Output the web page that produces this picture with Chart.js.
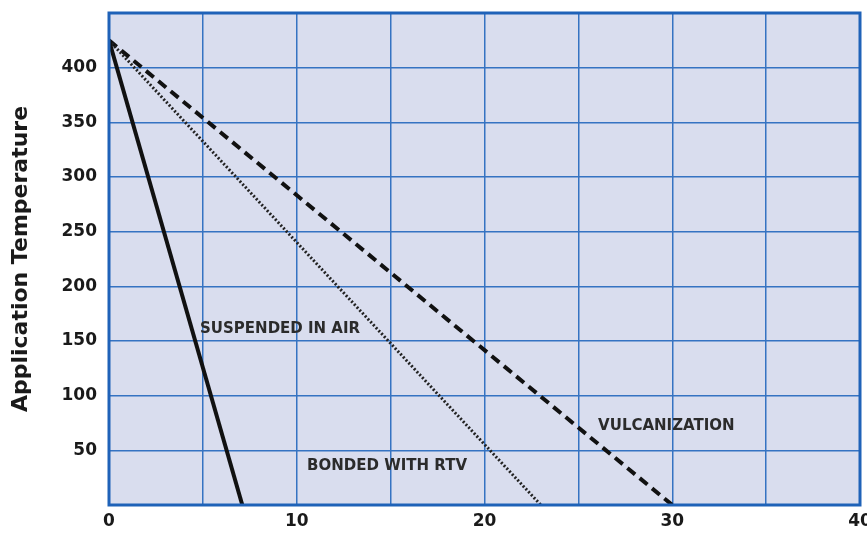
<!DOCTYPE html>
<html>
<head>
<meta charset="utf-8">
<script src="https://cdn.jsdelivr.net/npm/chart.js@4"></script>
<style>
  html, body { margin: 0; padding: 0; background: #ffffff; }
  #wrap { width: 867px; height: 533px; }
</style>
</head>
<body>
<div id="wrap"><canvas id="chartSuhu"></canvas></div>
<script>
// Data garis (waktu vs suhu)
const seriesNames = ["SUSPENDED IN AIR", "BONDED WITH RTV", "VULCANIZATION"];
const airX = [0, 7.1];
const airY = [425, 0];
const rtvX = [0, 23];
const rtvY = [425, 0];
const vulcX = [0, 30];
const vulcY = [425, 0];
const xTicks = [0, 10, 20, 30, 40];
const yTicks = [50, 100, 150, 200, 250, 300, 350, 400];

const toPoints = (xs, ys) => xs.map((x, i) => ({ x: x, y: ys[i] }));

const biru = "#3573c2";

// Latar belakang + bingkai area plot
const plotBox = {
  id: "plotBox",
  beforeDraw(chart) {
    const { ctx, chartArea: a } = chart;
    ctx.save();
    ctx.fillStyle = "#d9ddee";
    ctx.fillRect(a.left, a.top, a.right - a.left, a.bottom - a.top);
    ctx.restore();
  },
  afterDraw(chart) {
    const { ctx, chartArea: a } = chart;
    ctx.save();
    ctx.strokeStyle = "#1f62b8";
    ctx.lineWidth = 3;
    ctx.strokeRect(a.left, a.top, a.right - a.left, a.bottom - a.top);
    ctx.restore();
  }
};

// Label teks di dalam plot (posisi awal kiri, dalam satuan data)
const labelPos = [[4.85, 161], [10.55, 36], [26.05, 72]];
const lineLabels = {
  id: "lineLabels",
  afterDatasetsDraw(chart) {
    const { ctx, scales } = chart;
    ctx.save();
    ctx.font = "bold 15px 'DejaVu Sans'";
    ctx.fillStyle = "#2b2b2b";
    ctx.textAlign = "left";
    ctx.textBaseline = "middle";
    seriesNames.forEach((name, i) => {
      ctx.fillText(name, scales.x.getPixelForValue(labelPos[i][0]), scales.y.getPixelForValue(labelPos[i][1]));
    });
    ctx.restore();
  }
};

new Chart(document.getElementById("chartSuhu"), {
  type: "scatter",
  data: {
    datasets: [
      {
        label: seriesNames[0],
        data: toPoints(airX, airY),
        showLine: true,
        borderColor: "#111111",
        borderWidth: 4,
        pointRadius: 0
      },
      {
        label: seriesNames[1],
        data: toPoints(rtvX, rtvY),
        showLine: true,
        borderColor: "#222222",
        borderWidth: 3,
        borderDash: [2, 2],
        pointRadius: 0
      },
      {
        label: seriesNames[2],
        data: toPoints(vulcX, vulcY),
        showLine: true,
        borderColor: "#111111",
        borderWidth: 4,
        borderDash: [10, 6],
        pointRadius: 0
      }
    ]
  },
  options: {
    responsive: true,
    maintainAspectRatio: false,
    animation: false,
    layout: { padding: { top: 13, right: 7, left: 0, bottom: 0 } },
    plugins: {
      legend: { display: false },
      tooltip: { enabled: false }
    },
    scales: {
      x: {
        type: "linear",
        min: 0,
        max: 40,
        afterBuildTicks(scale) {
          scale.ticks = [0, 5, 10, 15, 20, 25, 30, 35, 40].map(v => ({ value: v }));
        },
        afterFit(scale) {
          scale.height = 28;
          scale.paddingLeft = 0;
          scale.paddingRight = 0;
        },
        grid: { color: biru, lineWidth: 1.5, drawTicks: false },
        border: { display: false },
        ticks: {
          padding: 6,
          maxRotation: 0,
          color: "#1a1a1a",
          font: { family: "DejaVu Sans", weight: "bold", size: 17 },
          callback: v => (xTicks.includes(v) ? v : "")
        }
      },
      y: {
        min: 0,
        max: 450,
        afterBuildTicks(scale) {
          scale.ticks = [0, ...yTicks, 450].map(v => ({ value: v }));
        },
        afterFit(scale) {
          scale.width = 109;
          scale.paddingTop = 0;
          scale.paddingBottom = 0;
        },
        grid: { color: biru, lineWidth: 1.5, drawTicks: false },
        border: { display: false },
        title: {
          display: true,
          text: "Application Temperature",
          color: "#1a1a1a",
          font: { family: "DejaVu Sans", weight: "bold", size: 22 },
          padding: { top: 8, bottom: 0 }
        },
        ticks: {
          padding: 12,
          color: "#1a1a1a",
          font: { family: "DejaVu Sans", weight: "bold", size: 17 },
          callback: v => (yTicks.includes(v) ? v : "")
        }
      }
    }
  },
  plugins: [plotBox, lineLabels]
});
</script>
</body>
</html>
